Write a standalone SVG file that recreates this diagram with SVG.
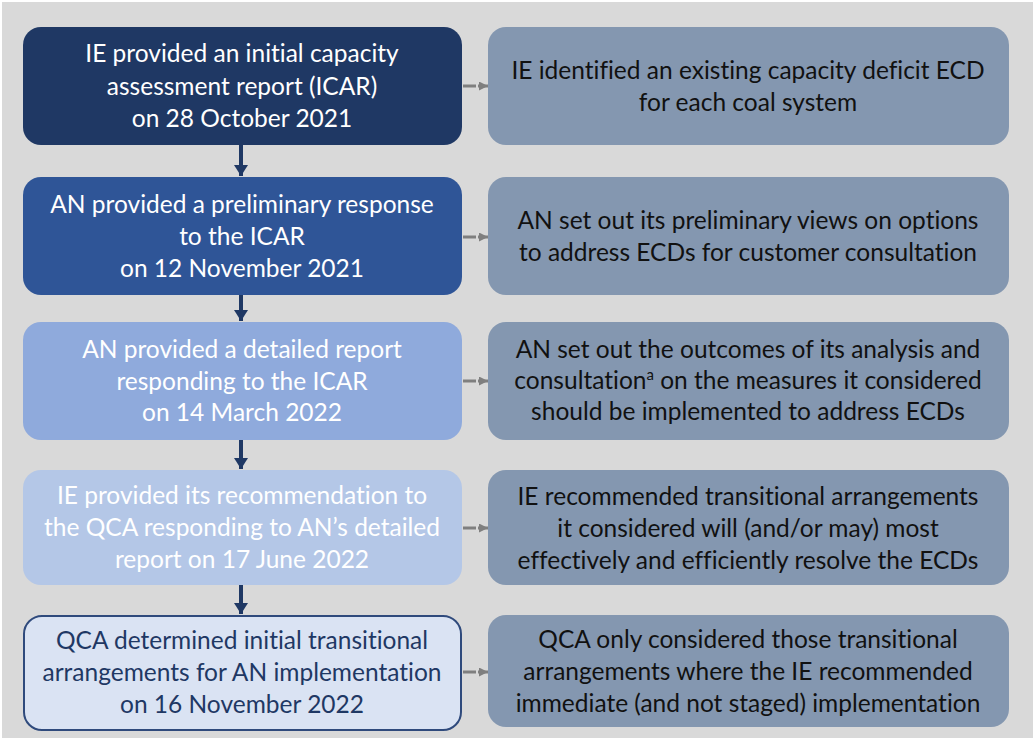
<svg xmlns="http://www.w3.org/2000/svg" width="1035" height="740" viewBox="0 0 1035 740">
  <defs>
    <marker id="down" viewBox="0 0 10 10" refX="10" refY="5" markerWidth="11" markerHeight="14" markerUnits="userSpaceOnUse" orient="auto" preserveAspectRatio="none">
      <path d="M0,0 L10,5 L0,10 z" fill="#1f3864"/>
    </marker>
    <marker id="side" viewBox="0 0 10 10" refX="10" refY="5" markerWidth="9" markerHeight="9" markerUnits="userSpaceOnUse" orient="auto">
      <path d="M0,0 L10,5 L0,10 z" fill="#7f7f7f"/>
    </marker>
  </defs>
  <style>
    text { font-family: Lato, "Open Sans", sans-serif; font-size: 24.5px; text-anchor: middle; font-variant-ligatures: none; }
    .w { fill: #ffffff; }
    .d { fill: #1f3864; }
    .k { fill: #111111; }
    .note { fill: #8497b0; }
    .flow { stroke: #1f3864; stroke-width: 4; fill: none; }
    .link { stroke: #7f7f7f; stroke-width: 3; fill: none; }
  </style>

  <rect x="0" y="0" width="1035" height="740" fill="#ffffff"/>
  <rect x="2" y="2" width="1031" height="736" fill="#d9d9d9"/>

  <!-- connectors -->
  <g id="connectors">
    <line class="flow" x1="241" y1="145" x2="241" y2="176" marker-end="url(#down)"/>
    <line class="flow" x1="241" y1="295" x2="241" y2="321" marker-end="url(#down)"/>
    <line class="flow" x1="241" y1="440" x2="241" y2="469" marker-end="url(#down)"/>
    <line class="flow" x1="241" y1="585" x2="241" y2="614" marker-end="url(#down)"/>
    <line class="link" x1="463" y1="86" x2="476" y2="86"/>
    <line class="link" x1="478" y1="86" x2="488" y2="86" marker-end="url(#side)"/>
    <line class="link" x1="463" y1="237" x2="476" y2="237"/>
    <line class="link" x1="478" y1="237" x2="488" y2="237" marker-end="url(#side)"/>
    <line class="link" x1="463" y1="381" x2="476" y2="381"/>
    <line class="link" x1="478" y1="381" x2="488" y2="381" marker-end="url(#side)"/>
    <line class="link" x1="463" y1="528" x2="476" y2="528"/>
    <line class="link" x1="478" y1="528" x2="488" y2="528" marker-end="url(#side)"/>
    <line class="link" x1="463" y1="672" x2="476" y2="672"/>
    <line class="link" x1="478" y1="672" x2="488" y2="672" marker-end="url(#side)"/>
  </g>

  <!-- step 1 -->
  <g id="step1">
    <rect x="23" y="27" width="439" height="118" rx="18" fill="#1f3864"/>
    <text class="w" x="242" y="62">IE provided an initial capacity</text>
    <text class="w" x="242" y="95">assessment report (ICAR)</text>
    <text class="w" x="242" y="127">on 28 October 2021</text>
  </g>
  <g id="note1">
    <rect class="note" x="488" y="27" width="521" height="118" rx="18"/>
    <text class="k" x="748" y="79">IE identified an existing capacity deficit ECD</text>
    <text class="k" x="748" y="111">for each coal system</text>
  </g>

  <!-- step 2 -->
  <g id="step2">
    <rect x="23" y="177" width="439" height="118" rx="18" fill="#2f5597"/>
    <text class="w" x="242" y="213">AN provided a preliminary response</text>
    <text class="w" x="242" y="245">to the ICAR</text>
    <text class="w" x="242" y="277">on 12 November 2021</text>
  </g>
  <g id="note2">
    <rect class="note" x="488" y="177" width="521" height="118" rx="18"/>
    <text class="k" x="748" y="229">AN set out its preliminary views on options</text>
    <text class="k" x="748" y="261">to address ECDs for customer consultation</text>
  </g>

  <!-- step 3 -->
  <g id="step3">
    <rect x="23" y="322" width="439" height="118" rx="18" fill="#8faadc"/>
    <text class="w" x="242" y="358">AN provided a detailed report</text>
    <text class="w" x="242" y="390">responding to the ICAR</text>
    <text class="w" x="242" y="421">on 14 March 2022</text>
  </g>
  <g id="note3">
    <rect class="note" x="488" y="322" width="521" height="118" rx="18"/>
    <text class="k" x="748" y="358">AN set out the outcomes of its analysis and</text>
    <text class="k" x="748" y="389">consultation<tspan font-size="15" dy="-9">a</tspan><tspan dy="9"> on the measures it considered</tspan></text>
    <text class="k" x="748" y="420">should be implemented to address ECDs</text>
  </g>

  <!-- step 4 -->
  <g id="step4">
    <rect x="23" y="470" width="439" height="115" rx="18" fill="#b4c7e7"/>
    <text class="w" x="242" y="504">IE provided its recommendation to</text>
    <text class="w" x="242" y="536">the QCA responding to AN’s detailed</text>
    <text class="w" x="242" y="568">report on 17 June 2022</text>
  </g>
  <g id="note4">
    <rect class="note" x="488" y="470" width="521" height="115" rx="18"/>
    <text class="k" x="748" y="505">IE recommended transitional arrangements</text>
    <text class="k" x="748" y="537">it considered will (and/or may) most</text>
    <text class="k" x="748" y="569">effectively and efficiently resolve the ECDs</text>
  </g>

  <!-- step 5 -->
  <g id="step5">
    <rect x="24" y="616" width="437" height="114" rx="18" fill="#dae3f3" stroke="#2f4a7c" stroke-width="2"/>
    <text class="d" x="242" y="649">QCA determined initial transitional</text>
    <text class="d" x="242" y="681">arrangements for AN implementation</text>
    <text class="d" x="242" y="713">on 16 November 2022</text>
  </g>
  <g id="note5">
    <rect class="note" x="488" y="615" width="521" height="112" rx="18"/>
    <text class="k" x="748" y="648">QCA only considered those transitional</text>
    <text class="k" x="748" y="680">arrangements where the IE recommended</text>
    <text class="k" x="748" y="712">immediate (and not staged) implementation</text>
  </g>
</svg>
